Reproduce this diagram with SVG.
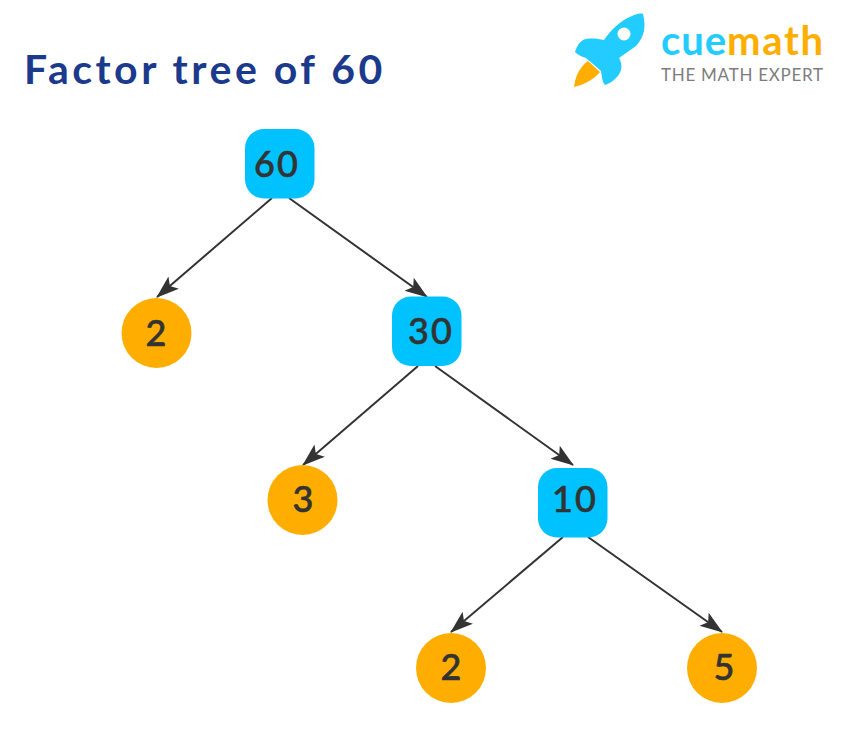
<svg xmlns="http://www.w3.org/2000/svg" width="841" height="732" viewBox="0 0 841 732">
<style>
.box{fill:#00c2ff}
.circ{fill:#ffae00}
.num{font-family:"Lato","Noto Sans",sans-serif;font-size:36px;font-weight:500;fill:#333;stroke:#333;stroke-width:.6;text-anchor:middle;letter-spacing:2px}
.edge{stroke:#333;stroke-width:2;fill:none;marker-end:url(#arr)}
.logo{font-family:"Lato","Noto Sans",sans-serif}
</style>
<defs>
<marker id="arr" viewBox="0 0 24 20" refX="22" refY="10" markerWidth="24" markerHeight="20" markerUnits="userSpaceOnUse" orient="auto">
<path d="M0 2 L23 10 L0 18 L5 10 Z" fill="#333"/>
</marker>
</defs>
<rect width="841" height="732" fill="#fff"/>
<text id="title" x="24" y="84" font-family="Lato,'Noto Sans',sans-serif" font-size="41" font-weight="700" fill="#1b3a8c" letter-spacing="3.5">Factor tree of 60</text>
<g id="logo">
<path d="M643 14 C646 26 645 36 636 46 L619 58 C623 65 622 72 616 78 C612 82 608 84 605 85 C602 82 602 76 601 71 L586 58 C582 57 578 55 575 52 C577 45 581 40 586 39 C592 38 599 39 604 40 C611 30 621 20 632 16 C636 14 640 13 643 14 Z" fill="#22ccff"/>
<circle cx="624" cy="34" r="6.500" fill="#fff"/>
<path d="M588 61 L600 72 C594 79 586 84 574 87 C575 79 578 68 588 61 Z" fill="#ffae00"/>
<text class="logo" x="661" y="55" font-size="40" font-weight="700" fill="#22ccff" textLength="65">cue</text>
<text class="logo" x="727" y="55" font-size="40" font-weight="700" fill="#ffae00" textLength="96">math</text>
<text class="logo" x="661" y="81" font-size="17" fill="#7d7d7d" textLength="162">THE MATH EXPERT</text>
</g>
<g id="connectors">
<line class="edge" x1="272" y1="198" x2="157" y2="297"/>
<line class="edge" x1="289" y1="198" x2="427" y2="297"/>
<line class="edge" x1="418" y1="366" x2="303" y2="465"/>
<line class="edge" x1="435" y1="366" x2="573" y2="465"/>
<line class="edge" x1="563" y1="537" x2="451" y2="632"/>
<line class="edge" x1="588" y1="537" x2="722" y2="632"/>
</g>
<g id="n60"><rect class="box" x="245" y="129" width="69.500" height="69.500" rx="19"/><text class="num" x="277" y="176.500">60</text></g>
<g id="n2a"><circle class="circ" cx="156.500" cy="333" r="35"/><text class="num" x="157" y="345.500">2</text></g>
<g id="n30"><rect class="box" x="392" y="296.500" width="69.500" height="69.500" rx="19"/><text class="num" x="431" y="343.500">30</text></g>
<g id="n3"><circle class="circ" cx="302.500" cy="500" r="35"/><text class="num" x="304" y="511.500">3</text></g>
<g id="n10"><rect class="box" x="538" y="468" width="69.500" height="69.500" rx="19"/><text class="num" x="575" y="511.500">10</text></g>
<g id="n2b"><circle class="circ" cx="451" cy="668" r="35"/><text class="num" x="452" y="679.500">2</text></g>
<g id="n5"><circle class="circ" cx="722" cy="668" r="35"/><text class="num" x="725" y="679.500">5</text></g>
</svg>
